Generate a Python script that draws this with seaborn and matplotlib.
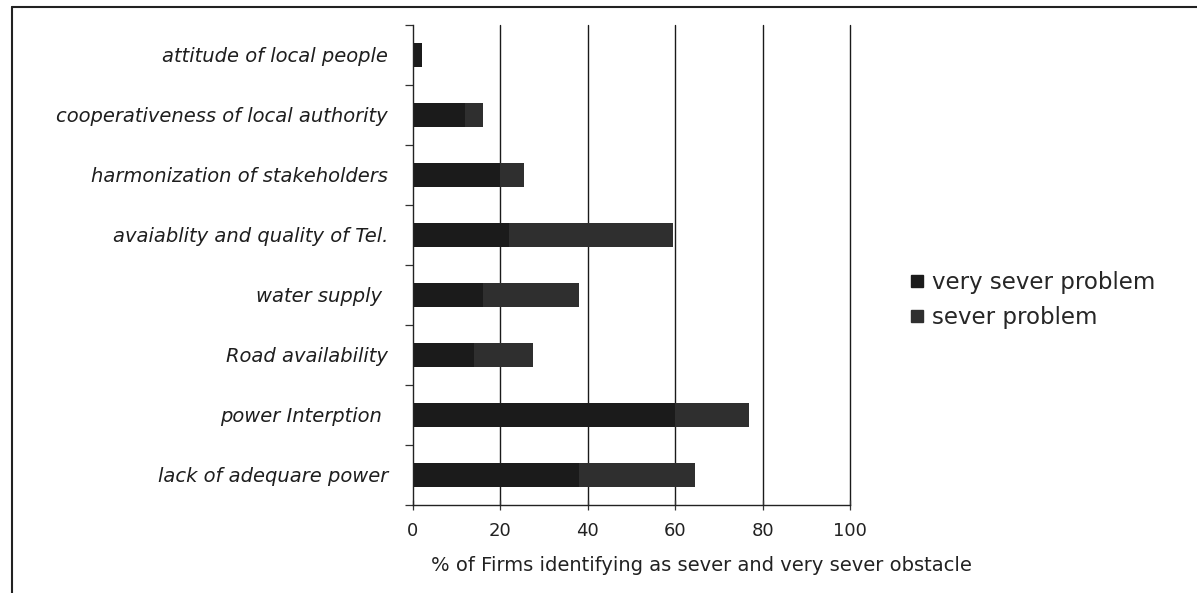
import matplotlib
matplotlib.use("Agg")
import matplotlib.pyplot as plt
import seaborn as sns
import pandas as pd
from matplotlib.lines import Line2D

# Obstacles (top to bottom) and share of firms rating them as a problem
categories = [
    "attitude of local people",
    "cooperativeness of local authority",
    "harmonization of stakeholders",
    "avaiablity and quality of Tel.",
    "water supply ",
    "Road availability",
    "power Interption ",
    "lack of adequare power",
]
very_sever = [2, 12, 20, 22, 16, 14, 60, 38]
sever = [0, 4, 5.5, 37.5, 22, 13.5, 17, 26.5]
x_ticks = [0, 20, 40, 60, 80, 100]

series_names = ["very sever problem", "sever problem"]
colors = {"very sever problem": "#1b1b1b", "sever problem": "#2f2f2f"}

df = pd.DataFrame({
    "category": categories,
    "very_sever": very_sever,
    "total": [a + b for a, b in zip(very_sever, sever)],
})

sns.set_style("white")
plt.rcParams["font.family"] = ["DejaVu Sans"]

fig = plt.figure(figsize=(11.97, 5.93), dpi=100)
ax = fig.add_axes([413 / 1197, 1 - 505 / 593, 437 / 1197, 480 / 593])

# stacked horizontal bars: totals first, then the very-severe share on top
sns.barplot(data=df, x="total", y="category", order=categories,
            color=colors["sever problem"], width=0.4, ax=ax,
            saturation=1, edgecolor="none", orient="h")
sns.barplot(data=df, x="very_sever", y="category", order=categories,
            color=colors["very sever problem"], width=0.4, ax=ax,
            saturation=1, edgecolor="none", orient="h")

ax.set_xlim(0, 100)
ax.set_ylim(len(categories) - 0.5, -0.5)
ax.set_xticks(x_ticks)
ax.set_xticklabels([str(t) for t in x_ticks], fontsize=13, color="#222222")

# category ticks sit between bars
ax.set_yticks([i + 0.5 for i in range(-1, len(categories))], minor=False)
ax.set_yticklabels([])
ax.set_yticks(range(len(categories)), minor=True)
ax.set_yticklabels(categories, minor=True, fontsize=14, style="italic",
                   color="#1e1e1e")
ax.tick_params(axis="y", which="minor", left=False, length=0, pad=18)
ax.tick_params(axis="y", which="major", left=True, length=6, width=0.9,
               direction="out", color="#333333")
ax.tick_params(axis="x", bottom=True, length=7, width=0.9, direction="inout",
               pad=9, color="#333333")

for t in x_ticks[1:]:
    ax.axvline(t, color="#1a1a1a", lw=1.0, zorder=0, clip_on=False)

for side in ["top", "right"]:
    ax.spines[side].set_visible(False)
for side in ["left", "bottom"]:
    ax.spines[side].set_color("#222222")
    ax.spines[side].set_linewidth(1.0)

ax.set_ylabel("")
ax.set_xlabel("% of Firms identifying as sever and very sever obstacle",
              fontsize=14, color="#222222")
ax.xaxis.set_label_coords(0.661, -0.106)

handles = [Line2D([], [], marker="s", linestyle="none", markersize=8,
                  color=colors[n]) for n in series_names]
fig.legend(handles, series_names, loc="center left",
           bbox_to_anchor=(908 / 1197, 1 - 300 / 593), frameon=False,
           fontsize=16.5, handletextpad=0.25, labelspacing=0.55,
           handlelength=0.8, borderaxespad=0, borderpad=0)

# outer frame lines along the top and left edges
fig.add_artist(Line2D([12 / 1197, 1], [1 - 7 / 593, 1 - 7 / 593],
                      transform=fig.transFigure, color="#222222", lw=1.5))
fig.add_artist(Line2D([12 / 1197, 12 / 1197], [0, 1 - 7 / 593],
                      transform=fig.transFigure, color="#222222", lw=1.5))

fig.savefig("out.png", dpi=100, facecolor="white")
